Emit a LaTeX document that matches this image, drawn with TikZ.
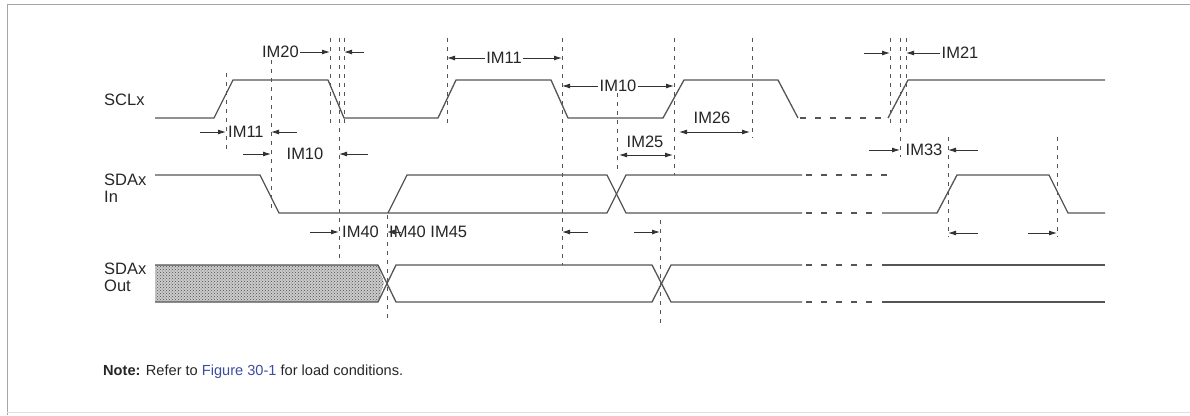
\documentclass[tikz,border=0pt]{standalone}
\usepackage{fontspec}
\setmainfont{Liberation Sans}
\usetikzlibrary{arrows.meta,patterns}
\definecolor{wave}{HTML}{555555}
\definecolor{linkblue}{HTML}{3D4C9E}
\tikzset{
    sig/.style={draw=wave, line width=1.3pt},
    gap/.style={draw=wave, line width=1.3pt, dash pattern=on 6pt off 9pt},
    guide/.style={draw=wave, line width=0.9pt, dash pattern=on 4pt off 5pt},
    dim/.style={draw=black!80, line width=0.9pt, -{Latex[length=8pt,width=5pt]}},
    both/.style={draw=black!80, line width=0.9pt, {Latex[length=8pt,width=5pt]}-{Latex[length=8pt,width=5pt]}},
    lbl/.style={font=\fontsize{16.5}{18}\selectfont, text=black!85, inner sep=1pt},
    signame/.style={font=\fontsize{16.5}{17}\selectfont, text=black!85, align=left, anchor=west, inner sep=0pt}
}
\begin{document}
\begin{tikzpicture}[x=1pt,y=-1pt]
    \useasboundingbox (0,0) rectangle (1190,415);
    % frame
    \draw[gray!70, line width=1pt] (1190,4) -- (7,4) -- (7,415);
    \draw[gray!25, line width=0.8pt] (7,412) -- (1190,412);

    % signal names
    \node[signame] (scl) at (104,100) {SCLx};
    \node[signame] (sdain) at (104,188) {SDAx\\In};
    \node[signame] (sdaout) at (104,277) {SDAx\\Out};

    % SCLx
    \draw[sig] (155,118) -- (214,118) -- (233,80) -- (328,80) -- (344,118) -- (438,118)
        -- (456,80) -- (551,80) -- (568,118) -- (663,118) -- (684,80) -- (778,80) -- (798,118);
    \draw[gap] (800,118) -- (886,118);
    \draw[sig] (888,118) -- (908,80) -- (1105,80);

    % SDAx In
    \draw[sig] (155,175) -- (260,175) -- (279,213) -- (607,213) -- (626,175) -- (802,175);
    \draw[sig] (388,213) -- (407,175) -- (607,175) -- (626,213) -- (802,213);
    \draw[gap] (806,175) -- (890,175);
    \draw[gap] (806,213) -- (880,213);
    \draw[sig] (882,213) -- (937,213) -- (957,175) -- (1049,175) -- (1068,213) -- (1105,213);

    % SDAx Out
    \fill[gray!40] (155,265) -- (378,265) -- (384,283) -- (378,302) -- (155,302) -- cycle;
    \fill[pattern=crosshatch dots, pattern color=gray!60!black] (155,265) -- (378,265) -- (384,283) -- (378,302) -- (155,302) -- cycle;
    \draw[sig] (155,265) -- (378,265) -- (396,302) -- (652,302) -- (671,265) -- (802,265);
    \draw[sig] (155,302) -- (378,302) -- (396,265) -- (652,265) -- (671,302) -- (802,302);
    \draw[gap] (806,265) -- (880,265);
    \draw[gap] (806,302) -- (880,302);
    \draw[sig] (882,265) -- (1105,265);
    \draw[sig] (882,302) -- (1105,302);

    % guides
    \draw[guide] (226,73) -- (226,152);
    \draw[guide] (271,60) -- (271,212);
    \draw[guide] (330,38) -- (330,127);
    \draw[guide] (339,38) -- (339,262);
    \draw[guide] (344,38) -- (344,127);
    \draw[guide] (387,215) -- (387,322);
    \draw[guide] (447,38) -- (447,125);
    \draw[guide] (562,38) -- (562,265);
    \draw[guide] (617,93) -- (617,172);
    \draw[guide] (674,38) -- (674,175);
    \draw[guide] (660,220) -- (660,324);
    \draw[guide] (752,38) -- (752,138);
    \draw[guide] (890,38) -- (890,127);
    \draw[guide] (900,38) -- (900,157);
    \draw[guide] (906,38) -- (906,127);
    \draw[guide] (948,137) -- (948,237);
    \draw[guide] (1057,137) -- (1057,237);

    % timing labels
    \node[lbl, anchor=east] (im20) at (300,52) {IM20};
    \draw[dim] (im20.east) -- (330,52);
    \draw[dim] (364,52) -- (344,52);
    \node[lbl] (im11a) at (504,58) {IM11};
    \draw[dim] (im11a.west) -- (447,58);
    \draw[dim] (im11a.east) -- (562,58);
    \node[lbl] (im10a) at (618,86) {IM10};
    \draw[dim] (im10a.west) -- (562,86);
    \draw[dim] (im10a.east) -- (674,86);
    \node[lbl] (im21) at (960,53) {IM21};
    \draw[dim] (864,53) -- (890,53);
    \draw[dim] (im21.west) -- (906,53);
    \node[lbl, anchor=west] (im11b) at (227,132) {IM11};
    \draw[dim] (200,132) -- (226,132);
    \draw[dim] (297,132) -- (271,132);
    \node[lbl] (im10b) at (305,154) {IM10};
    \draw[dim] (243,154) -- (271,154);
    \draw[dim] (368,154) -- (339,154);
    \node[lbl] (im26) at (712,118) {IM26};
    \draw[both] (679,132) -- (750,132);
    \node[lbl] (im25) at (645,142) {IM25};
    \draw[both] (619,155) -- (673,155);
    \node[lbl] (im33) at (924,150) {IM33};
    \draw[dim] (869,150) -- (900,150);
    \draw[dim] (978,150) -- (948,150);
    \node[lbl, anchor=west] (im40a) at (341,232) {IM40};
    \draw[dim] (310,232) -- (339,232);
    \node[lbl, anchor=west] (im40b) at (388,232) {IM40 IM45};
    \draw[dim] (401,232) -- (387,232);
    \draw[dim] (588,232) -- (562,232);
    \draw[dim] (634,232) -- (660,232);
    \draw[dim] (978,233) -- (948,233);
    \draw[dim] (1028,233) -- (1057,233);

    % note
    \node[anchor=west, font=\fontsize{14.6}{16}\selectfont, text=black!85, inner sep=0pt] (note) at (103,372)
        {\textbf{Note:} Refer to \textcolor{linkblue}{Figure 30-1} for load conditions.};
\end{tikzpicture}
\end{document}
